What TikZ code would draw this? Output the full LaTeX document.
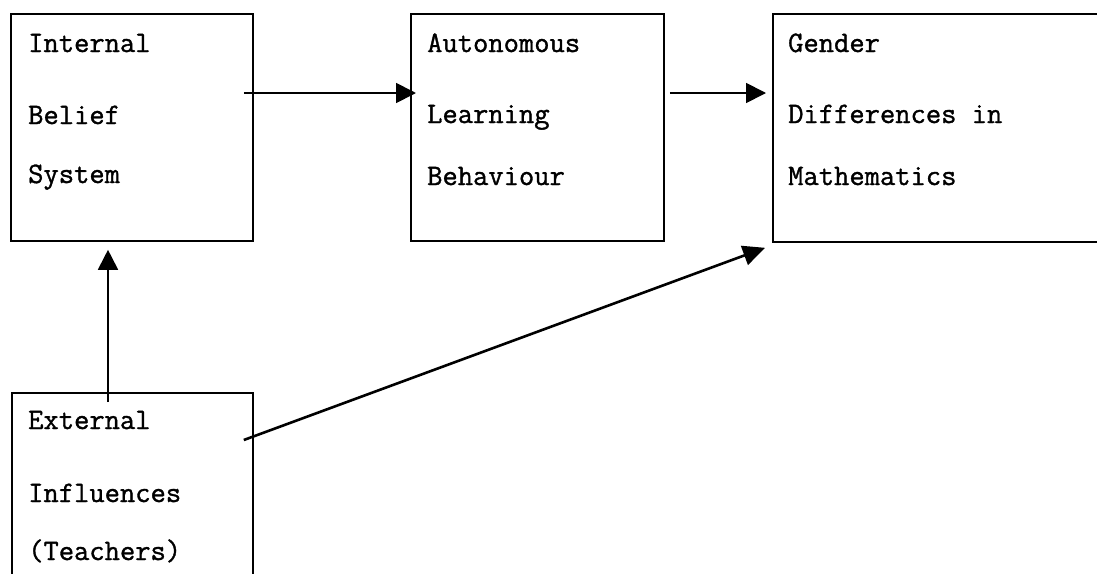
\documentclass[tikz,border=0pt]{standalone}
\usepackage{fontspec}
\newfontfamily\courfont[FakeBold=1.2]{Latin Modern Mono}
\usetikzlibrary{arrows.meta,calc}
\begin{document}
\begin{tikzpicture}[x=1pt,y=-1pt,
  box/.style={draw,line width=1.8pt,anchor=north west,inner sep=0pt},
  txt/.style={anchor=base west,inner sep=0pt,font=\courfont\fontsize{29.7}{32}\selectfont},
  arr/.style={line width=1.8pt,-{Triangle[length=20pt,width=20pt]}},
  diag/.style={line width=2.6pt,-{Triangle[length=22pt,width=20pt]}}]
\useasboundingbox (0,0) rectangle (1097,573);
% boxes
\node[box,minimum width=242pt,minimum height=227pt] (b1) at (10,13) {};
\node[box,minimum width=253pt,minimum height=227pt] (b2) at (410,13) {};
\node[box,minimum width=338pt,minimum height=228pt] (b3) at (772,13) {};
\node[box,minimum width=241pt,minimum height=208pt] (b4) at (11,392) {};
% texts
\node[txt] (t11) at (28,52) {Internal};
\node[txt] (t12) at (28,124) {Belief};
\node[txt] (t13) at (28,183) {System};
\node[txt] (t21) at (427,52) {Autonomous};
\node[txt] (t22) at (427,123) {Learning};
\node[txt] (t23) at (427,185) {Behaviour};
\node[txt] (t31) at (788,52) {Gender};
\node[txt] (t32) at (788,123) {Differences in};
\node[txt] (t33) at (788,185) {Mathematics};
\node[txt] (t41) at (28,429) {External};
\node[txt] (t42) at (28,502) {Influences};
\node[txt] (t43) at (28,560) {(Teachers)};
% connector end points
\coordinate (a1s) at ($(b1.north east)+(-10,80)$);
\coordinate (a1e) at ($(b2.north west)+(6,80)$);
\coordinate (a2s) at ($(b2.north east)+(5,80)$);
\coordinate (a2e) at ($(b3.north west)+(-6,80)$);
\coordinate (a3s) at ($(b4.north west)+(97,10)$);
\coordinate (a3e) at ($(b1.south west)+(98,8)$);
\coordinate (a4s) at ($(b4.north east)+(-10,48)$);
\coordinate (a4e) at ($(b3.south west)+(-7,5)$);
% connectors
\draw[arr] (a1s) -- (a1e);
\draw[arr] (a2s) -- (a2e);
\draw[arr] (a3s) -- (a3e);
\draw[diag] (a4s) -- (a4e);
\end{tikzpicture}
\end{document}
